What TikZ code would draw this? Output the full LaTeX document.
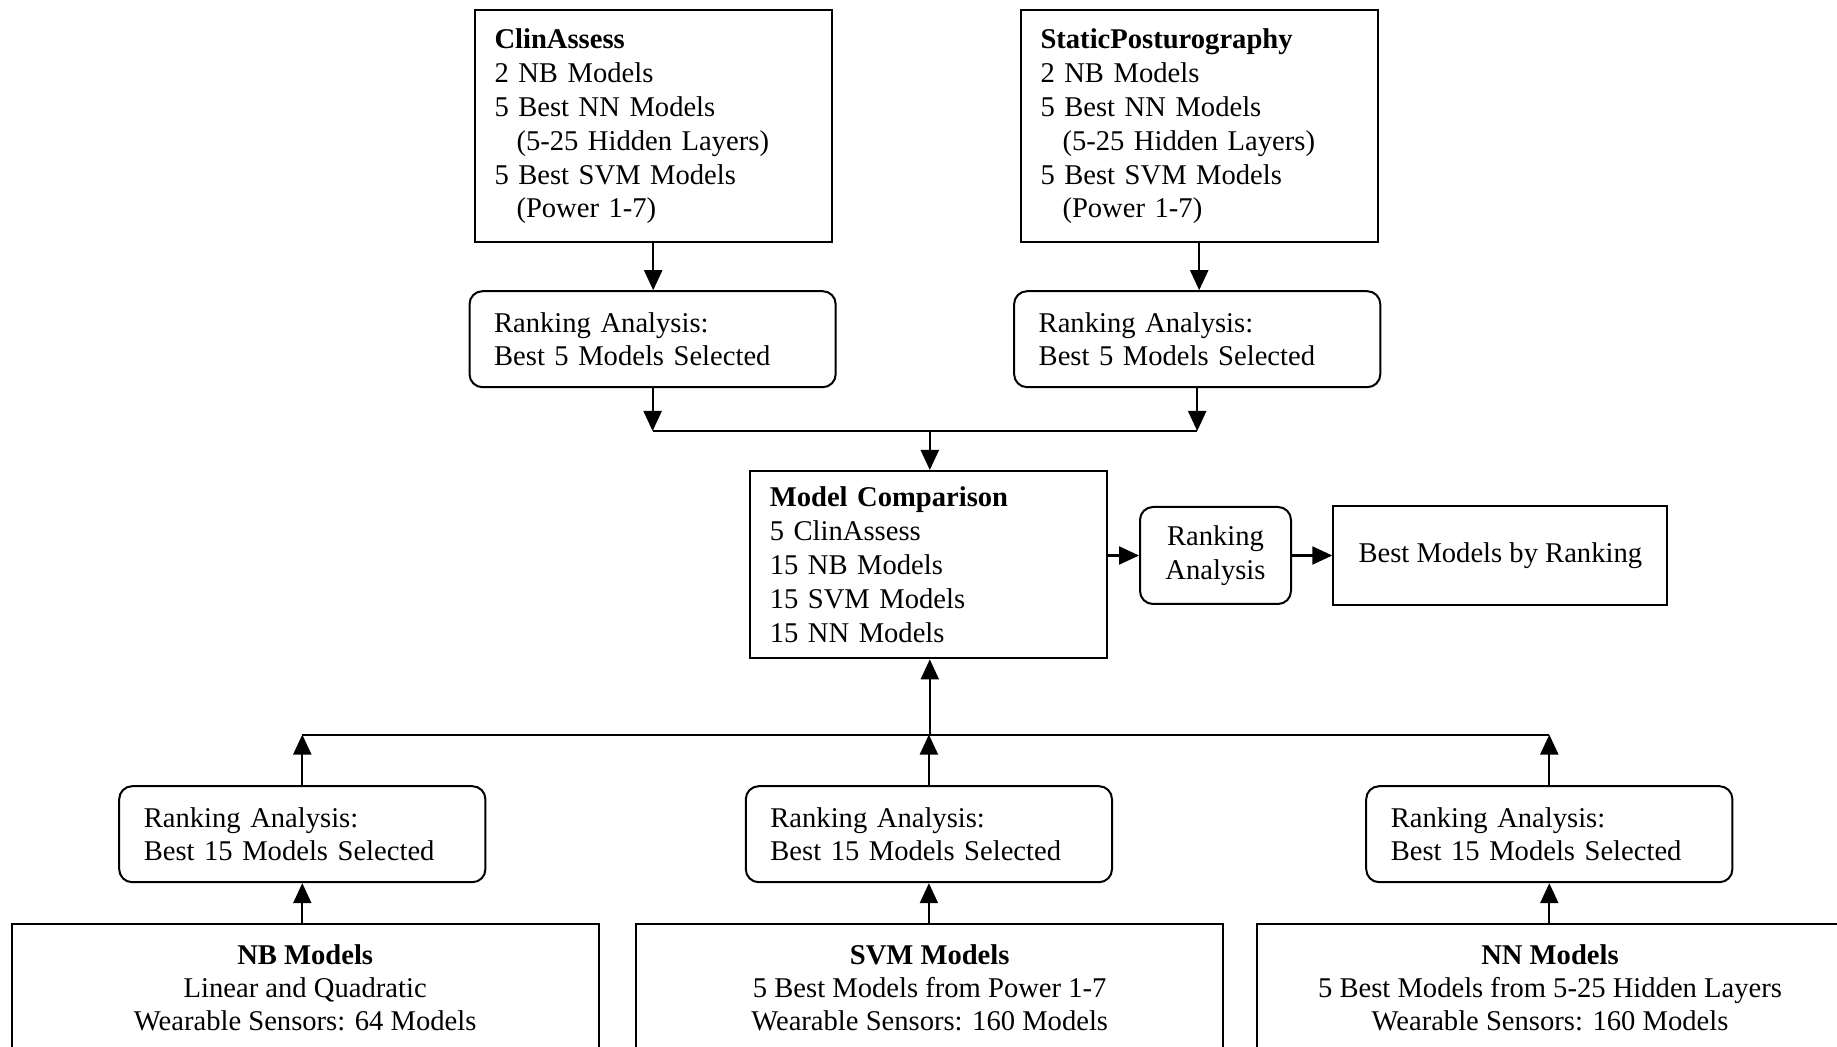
\documentclass[tikz,border=0pt]{standalone}
\usepackage{fontspec}
\setmainfont{Liberation Serif}
\usetikzlibrary{arrows.meta,positioning}

\tikzset{
  databox/.style={draw, line width=1pt, align=left, text width=158.7pt, inner xsep=10pt, minimum height=116pt},
  rankbox/.style={draw, line width=1pt, rounded corners=6.5pt, align=left, text width=158.5pt, inner xsep=12.3pt, minimum height=48pt},
  groupbox/.style={draw, line width=1pt, align=center, minimum width=293.5pt, minimum height=63.2pt, font=\fontsize{14.3}{16.4}\selectfont},
  flow/.style={line width=1.1pt, -{Triangle[length=10pt,width=9pt]}},
  joinline/.style={line width=1pt},
}

\begin{document}
\begin{tikzpicture}[x=0.5pt, y=-0.5pt, every node/.style={font=\fontsize{14.3}{16.9}\selectfont}]
    \useasboundingbox (0,0) rectangle (1837,1047);
    \clip (0,0) rectangle (1837,1047);

    % top sources
    \node[databox] (clin) at (653.2,126.5) {\textbf{ClinAssess}\\2 NB Models\\5 Best NN Models\\\hspace*{11pt}(5-25 Hidden Layers)\\5 Best SVM Models\\\hspace*{11pt}(Power 1-7)};
    \node[databox] (post) at (1199.2,126.5) {\textbf{StaticPosturography}\\2 NB Models\\5 Best NN Models\\\hspace*{11pt}(5-25 Hidden Layers)\\5 Best SVM Models\\\hspace*{11pt}(Power 1-7)};

    \node[rankbox] (rankclin) at (652.6,339.2) {Ranking Analysis:\\Best 5 Models Selected};
    \node[rankbox] (rankpost) at (1197.2,339.2) {Ranking Analysis:\\Best 5 Models Selected};

    % comparison row
    \node[draw, line width=1pt, align=left, text width=158.7pt, inner xsep=10pt, minimum height=93.7pt] (comp) at (928.5,564.7) {\textbf{Model Comparison}\\5 ClinAssess\\15 NB Models\\15 SVM Models\\15 NN Models};
    \node[draw, line width=1pt, rounded corners=6.5pt, align=center, minimum width=75.5pt, minimum height=48.5pt] (rankfin) at (1215.5,555.5) {Ranking\\Analysis};
    \node[draw, line width=1pt, align=center, minimum width=167pt, minimum height=49.2pt] (best) at (1500.3,555.5) {Best Models by Ranking};

    % wearable sensor groups
    \node[rankbox] (ranknb) at (302.3,834.2) {Ranking Analysis:\\Best 15 Models Selected};
    \node[rankbox] (ranksvm) at (928.9,834.2) {Ranking Analysis:\\Best 15 Models Selected};
    \node[rankbox] (ranknn) at (1549.3,834.2) {Ranking Analysis:\\Best 15 Models Selected};

    \node[groupbox] (nb) at (305.2,987.6) {\textbf{NB Models}\\Linear and Quadratic\\Wearable Sensors: 64 Models};
    \node[groupbox] (svm) at (929.7,987.6) {\textbf{SVM Models}\\5 Best Models from Power 1-7\\Wearable Sensors: 160 Models};
    \node[groupbox] (nn) at (1550,987.6) {\textbf{NN Models}\\5 Best Models from 5-25 Hidden Layers\\Wearable Sensors: 160 Models};

    \coordinate (jointop) at (929.8,431);
    \coordinate (joinbot) at (929.8,734.6);

    \draw[flow] (clin.south) -- (clin.south |- rankclin.north);
    \draw[flow] (post.south) -- (post.south |- rankpost.north);
    \draw[flow] (rankclin.south) -- (rankclin.south |- jointop);
    \draw[flow] (rankpost.south) -- (rankpost.south |- jointop);
    \draw[joinline] (rankclin.south |- jointop) -- (rankpost.south |- jointop);
    \draw[flow] (jointop) -- (jointop |- comp.north);

    \draw[flow] (comp.east |- rankfin.west) -- (rankfin.west);
    \draw[flow] (rankfin.east) -- (best.west);

    \draw[flow] (ranknb.south |- nb.north) -- (ranknb.south);
    \draw[flow] (ranksvm.south |- svm.north) -- (ranksvm.south);
    \draw[flow] (ranknn.south |- nn.north) -- (ranknn.south);
    \draw[flow] (ranknb.north) -- (ranknb.north |- joinbot);
    \draw[flow] (ranksvm.north) -- (ranksvm.north |- joinbot);
    \draw[flow] (ranknn.north) -- (ranknn.north |- joinbot);
    \draw[joinline] (ranknb.north |- joinbot) -- (ranknn.north |- joinbot);
    \draw[flow] (joinbot) -- (joinbot |- comp.south);
\end{tikzpicture}
\end{document}
